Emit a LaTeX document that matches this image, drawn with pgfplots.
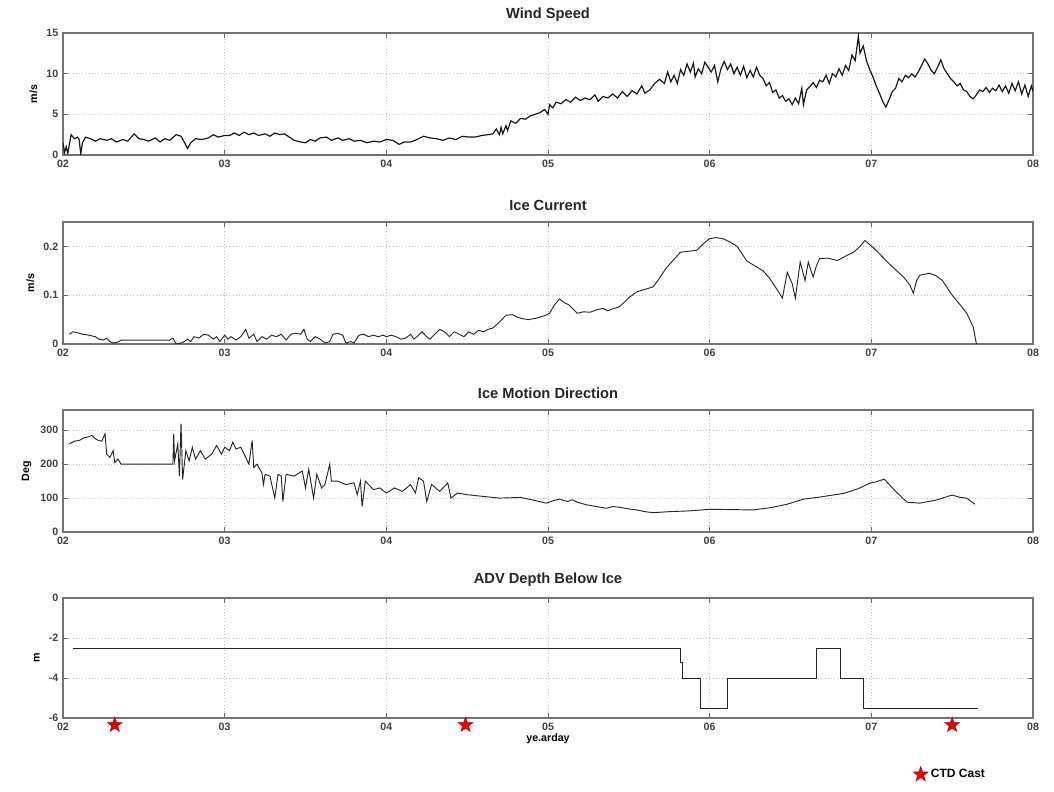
\documentclass[border=0pt]{standalone}
\usepackage{fontspec}
\setmainfont{Liberation Sans}
\usepackage{pgfplots}
\pgfplotsset{compat=1.18}
\pgfdeclareplotmark{fstar}{%
  \pgfpathmoveto{\pgfpointpolar{90}{\pgfplotmarksize}}%
  \pgfpathlineto{\pgfpointpolar{126}{0.4\pgfplotmarksize}}%
  \pgfpathlineto{\pgfpointpolar{162}{\pgfplotmarksize}}%
  \pgfpathlineto{\pgfpointpolar{198}{0.4\pgfplotmarksize}}%
  \pgfpathlineto{\pgfpointpolar{234}{\pgfplotmarksize}}%
  \pgfpathlineto{\pgfpointpolar{270}{0.4\pgfplotmarksize}}%
  \pgfpathlineto{\pgfpointpolar{306}{\pgfplotmarksize}}%
  \pgfpathlineto{\pgfpointpolar{342}{0.4\pgfplotmarksize}}%
  \pgfpathlineto{\pgfpointpolar{18}{\pgfplotmarksize}}%
  \pgfpathlineto{\pgfpointpolar{54}{0.4\pgfplotmarksize}}%
  \pgfpathclose\pgfusepathqfillstroke}
\pgfplotsset{
  panel/.style={
    scale only axis, width=727.5pt, height=91.5pt,
    xmin=2, xmax=8,
    xtick={2,3,4,5,6,7,8},
    xticklabels={02,03,04,05,06,07,08},
    axis line style={draw=black!55, line width=0.9pt},
    tick style={draw=black!60, line width=0.6pt},
    tick align=inside,
    major tick length=4pt,
    grid=major,
    major grid style={draw=black!25, dotted, line width=0.6pt},
    /pgf/number format/assume math mode=true,
    ticklabel style={font=\bfseries\fontsize{8}{9}\selectfont, text=black!75},
    /pgf/number format/fixed,
    ylabel style={font=\bfseries\fontsize{8}{9}\selectfont},
    xlabel style={font=\bfseries\fontsize{8}{9}\selectfont},
    title style={font=\bfseries\fontsize{11}{12}\selectfont, text=black!85, yshift=-1pt},
  },
  dline/.style={black!85, line width=0.7pt, mark=none},
}
\begin{document}
\begin{tikzpicture}
\useasboundingbox (0,0) rectangle (790.5pt,594pt);
% ---------------- Wind Speed
\begin{axis}[panel, at={(47.25pt,477.75pt)}, anchor=south west,
  ymin=0, ymax=15, ytick={0,5,10,15}, title={Wind Speed}, ylabel={m/s}]
\addplot[dline, line width=0.9pt, black!90] coordinates {
(2.00,1.5)(2.01,0.3)(2.02,1.0)(2.03,0.2)(2.05,2.5)(2.07,2.0)(2.09,2.2)(2.10,1.9)(2.11,0.1)(2.12,1.5)
(2.14,2.2)(2.17,2.0)(2.20,1.7)(2.23,2.0)(2.27,1.8)(2.30,2.0)(2.33,1.6)(2.37,1.9)(2.40,1.7)(2.44,2.6)
(2.47,2.0)(2.50,1.9)(2.53,1.7)(2.57,2.1)(2.60,1.6)(2.63,2.0)(2.66,1.8)(2.70,2.5)(2.73,2.3)(2.75,1.6)
(2.77,0.8)(2.79,1.5)(2.82,2.0)(2.86,1.9)(2.90,2.1)(2.93,2.5)(2.96,2.2)(3.00,2.4)(3.03,2.4)(3.06,2.7)
(3.09,2.4)(3.12,2.8)(3.15,2.5)(3.18,2.7)(3.21,2.4)(3.25,2.6)(3.28,2.3)(3.31,2.7)(3.34,2.5)(3.37,2.6)
(3.40,2.2)(3.43,1.8)(3.47,1.6)(3.50,1.5)(3.53,1.9)(3.56,1.7)(3.59,2.1)(3.63,2.2)(3.66,1.8)(3.70,2.1)
(3.73,1.8)(3.77,2.0)(3.80,1.7)(3.84,1.8)(3.88,1.5)(3.92,1.7)(3.96,1.6)(4.00,1.9)(4.04,1.8)(4.08,1.3)
(4.11,1.6)(4.15,1.6)(4.19,1.9)(4.23,2.3)(4.27,2.1)(4.31,2.0)(4.35,1.8)(4.39,2.1)(4.43,1.9)(4.47,2.3)
(4.51,2.2)(4.55,2.2)(4.59,2.4)(4.63,2.5)(4.66,2.6)(4.68,3.2)(4.70,2.5)(4.71,3.4)(4.72,2.6)(4.74,3.6)
(4.75,3.0)(4.77,4.2)(4.80,3.9)(4.83,4.5)(4.86,4.4)(4.89,4.8)(4.92,5.0)(4.95,5.2)(4.98,5.6)(5.00,5.0)
(5.01,6.2)(5.03,5.8)(5.05,6.5)(5.08,6.3)(5.11,6.8)(5.14,6.5)(5.17,7.1)(5.20,6.7)(5.23,7.0)(5.26,6.8)
(5.29,7.4)(5.31,6.6)(5.34,7.2)(5.37,7.0)(5.40,7.5)(5.43,7.0)(5.46,7.8)(5.49,7.2)(5.52,7.9)(5.55,7.5)
(5.58,8.5)(5.60,7.6)(5.63,8.0)(5.66,8.8)(5.69,9.3)(5.72,8.8)(5.74,10.2)(5.76,9.0)(5.78,9.8)(5.80,8.8)
(5.82,10.5)(5.84,9.8)(5.86,11.2)(5.88,10.2)(5.90,11.3)(5.91,9.6)(5.93,10.6)(5.95,10.0)(5.97,11.4)(5.99,10.8)
(6.01,10.2)(6.03,11.0)(6.05,9.0)(6.07,10.6)(6.09,11.5)(6.11,10.5)(6.13,11.2)(6.15,10.0)(6.17,10.8)(6.19,9.8)
(6.21,10.9)(6.23,9.5)(6.25,10.4)(6.27,9.6)(6.29,10.8)(6.31,9.8)(6.33,9.4)(6.35,8.5)(6.37,8.9)(6.39,7.7)
(6.41,8.0)(6.43,7.0)(6.45,7.3)(6.47,6.6)(6.49,6.9)(6.51,6.2)(6.53,7.0)(6.55,6.3)(6.57,8.2)(6.58,6.2)
(6.60,8.0)(6.62,8.4)(6.64,8.9)(6.66,8.3)(6.68,9.2)(6.70,9.0)(6.72,9.8)(6.74,8.8)(6.76,10.0)(6.78,9.6)
(6.80,10.6)(6.82,9.8)(6.84,11.0)(6.86,10.4)(6.88,12.3)(6.90,11.6)(6.92,14.6)(6.93,12.5)(6.95,13.4)(6.97,11.6)
(6.99,10.5)(7.01,9.6)(7.03,8.5)(7.05,7.6)(7.07,6.6)(7.09,5.9)(7.11,6.8)(7.13,7.8)(7.15,8.2)(7.17,9.4)
(7.19,9.0)(7.21,9.8)(7.23,9.5)(7.25,10.0)(7.27,9.6)(7.29,10.2)(7.31,11.0)(7.33,11.8)(7.35,11.2)(7.37,10.4)
(7.39,10.0)(7.41,10.8)(7.43,11.7)(7.45,10.6)(7.47,10.0)(7.49,9.4)(7.51,9.0)(7.53,8.5)(7.55,8.8)(7.57,8.0)
(7.59,7.8)(7.61,7.2)(7.63,6.9)(7.65,7.4)(7.67,8.0)(7.69,7.8)(7.71,8.3)(7.73,7.7)(7.75,8.2)(7.77,7.9)
(7.79,8.6)(7.81,7.8)(7.83,8.5)(7.85,7.6)(7.87,8.8)(7.89,7.9)(7.91,9.0)(7.93,7.5)(7.95,8.6)(7.97,7.2)
(7.99,8.5)(8.00,7.8)
};
\end{axis}
% ---------------- Ice Current
\begin{axis}[panel, at={(47.25pt,336pt)}, anchor=south west,
  ymin=0, ymax=0.25, ytick={0,0.1,0.2}, title={Ice Current}, ylabel={m/s}]
\addplot[dline] coordinates {
(2.04,0.020)(2.06,0.025)(2.09,0.023)(2.12,0.020)(2.16,0.018)(2.20,0.015)(2.22,0.010)(2.25,0.008)(2.27,0.012)(2.29,0.005)
(2.31,0.002)(2.34,0.004)(2.36,0.008)(2.66,0.008)(2.68,0.012)(2.70,0.000)(2.73,0.002)(2.75,0.005)(2.77,0.010)(2.79,0.005)
(2.81,0.015)(2.84,0.012)(2.87,0.020)(2.90,0.018)(2.93,0.010)(2.95,0.015)(2.97,0.005)(3.00,0.018)(3.02,0.010)(3.04,0.015)
(3.07,0.008)(3.10,0.015)(3.13,0.030)(3.15,0.012)(3.18,0.020)(3.20,0.005)(3.23,0.015)(3.26,0.010)(3.29,0.018)(3.32,0.015)
(3.35,0.020)(3.38,0.008)(3.41,0.020)(3.44,0.022)(3.47,0.020)(3.49,0.030)(3.51,0.010)(3.53,0.005)(3.56,0.015)(3.59,0.010)
(3.62,0.002)(3.65,0.005)(3.67,0.020)(3.70,0.022)(3.73,0.018)(3.75,0.002)(3.78,0.005)(3.80,0.002)(3.83,0.018)(3.86,0.020)
(3.89,0.015)(3.92,0.018)(3.95,0.015)(3.98,0.018)(4.00,0.015)(4.03,0.018)(4.06,0.015)(4.09,0.010)(4.12,0.012)(4.15,0.020)
(4.17,0.010)(4.19,0.015)(4.22,0.025)(4.25,0.015)(4.27,0.010)(4.30,0.020)(4.33,0.030)(4.36,0.025)(4.39,0.015)(4.42,0.025)
(4.45,0.020)(4.48,0.015)(4.51,0.025)(4.54,0.020)(4.57,0.028)(4.60,0.025)(4.63,0.030)(4.66,0.033)(4.70,0.045)(4.74,0.059)
(4.78,0.060)(4.81,0.055)(4.84,0.052)(4.88,0.050)(4.93,0.053)(4.98,0.058)(5.01,0.063)(5.04,0.080)(5.07,0.092)(5.10,0.085)
(5.13,0.080)(5.16,0.070)(5.18,0.063)(5.22,0.066)(5.26,0.065)(5.30,0.070)(5.34,0.073)(5.37,0.068)(5.40,0.072)(5.44,0.076)
(5.47,0.085)(5.50,0.095)(5.55,0.107)(5.60,0.112)(5.65,0.117)(5.69,0.135)(5.73,0.155)(5.77,0.170)(5.82,0.188)(5.87,0.190)
(5.92,0.192)(5.96,0.205)(6.00,0.216)(6.04,0.218)(6.08,0.216)(6.12,0.210)(6.17,0.200)(6.20,0.185)(6.23,0.170)(6.28,0.160)
(6.33,0.150)(6.37,0.135)(6.42,0.110)(6.45,0.094)(6.48,0.147)(6.51,0.124)(6.53,0.094)(6.56,0.168)(6.59,0.130)(6.61,0.168)
(6.64,0.137)(6.66,0.160)(6.68,0.175)(6.73,0.176)(6.79,0.171)(6.84,0.180)(6.89,0.188)(6.93,0.200)(6.96,0.212)(7.01,0.198)
(7.05,0.185)(7.10,0.168)(7.15,0.152)(7.20,0.137)(7.24,0.120)(7.26,0.104)(7.28,0.130)(7.30,0.141)(7.36,0.145)(7.40,0.140)
(7.44,0.130)(7.50,0.100)(7.55,0.080)(7.59,0.063)(7.63,0.035)(7.65,0.000)
};
\end{axis}
% ---------------- Ice Motion Direction
\begin{axis}[panel, at={(47.25pt,195pt)}, anchor=south west,
  ymin=0, ymax=360, ytick={0,100,200,300}, title={Ice Motion Direction}, ylabel={Deg}]
\addplot[dline] coordinates {
(2.04,260)(2.07,268)(2.10,270)(2.13,278)(2.15,280)(2.18,285)(2.20,275)(2.22,270)(2.24,268)(2.26,290)
(2.27,230)(2.29,220)(2.31,240)(2.32,205)(2.34,215)(2.36,200)(2.68,200)(2.685,290)(2.69,210)(2.71,260)
(2.72,165)(2.73,320)(2.74,155)(2.76,240)(2.78,210)(2.80,250)(2.82,215)(2.85,240)(2.88,215)(2.92,230)
(2.95,255)(2.98,230)(3.00,250)(3.03,240)(3.05,265)(3.07,245)(3.10,250)(3.13,220)(3.15,200)(3.17,270)
(3.18,190)(3.20,200)(3.23,175)(3.24,140)(3.25,170)(3.28,165)(3.31,100)(3.33,170)(3.35,165)(3.36,90)
(3.38,170)(3.43,165)(3.48,180)(3.50,130)(3.52,185)(3.55,100)(3.57,170)(3.60,130)(3.62,140)(3.65,200)
(3.66,150)(3.70,150)(3.75,140)(3.80,145)(3.82,110)(3.84,150)(3.85,75)(3.87,150)(3.92,125)(3.96,130)
(4.00,115)(4.05,130)(4.10,120)(4.15,140)(4.18,115)(4.20,160)(4.23,150)(4.25,90)(4.28,140)(4.33,120)
(4.38,145)(4.40,100)(4.44,115)(4.50,110)(4.60,105)(4.70,100)(4.83,102)(4.90,95)(4.99,85)(5.03,92)
(5.07,97)(5.12,90)(5.15,95)(5.18,88)(5.24,80)(5.30,75)(5.36,70)(5.40,75)(5.44,73)(5.50,68)
(5.55,65)(5.60,60)(5.65,57)(5.75,60)(5.86,62)(5.95,65)(6.00,67)(6.15,66)(6.27,65)(6.38,72)
(6.48,82)(6.58,97)(6.68,103)(6.83,114)(6.92,128)(6.99,144)(7.03,148)(7.08,156)(7.15,120)(7.22,88)
(7.30,85)(7.40,94)(7.50,109)(7.55,102)(7.59,100)(7.64,82)
};
\end{axis}
% ---------------- ADV Depth Below Ice
\begin{axis}[panel, at={(47.25pt,55.5pt)}, anchor=south west, height=90pt,
  ymin=-6, ymax=0, ytick={0,-2,-4,-6}, title={ADV Depth Below Ice}, ylabel={m},
  xlabel={ye.arday}, xlabel style={yshift=4pt}, clip=false,
  legend style={at={(0.872,-0.47)}, anchor=west, draw=none, fill=none,
    font=\bfseries\fontsize{9}{10}\selectfont},
  legend cell align=left]
\addplot[dline, forget plot] coordinates {
(2.06,-2.5)(5.82,-2.5)(5.82,-3.2)(5.83,-3.2)(5.83,-4)(5.94,-4)(5.94,-5.5)(6.11,-5.5)(6.11,-4)
(6.66,-4)(6.66,-2.5)(6.81,-2.5)(6.81,-4)(6.95,-4)(6.95,-5.5)(7.66,-5.5)
};
\addplot[only marks, mark=fstar, mark size=6pt, draw=red!70!black, fill=red!90!black, line width=0.3pt]
  coordinates {(2.32,-6.35)(4.49,-6.35)(7.50,-6.35)};
\addlegendentry{CTD Cast}
\end{axis}
\end{tikzpicture}
\end{document}
